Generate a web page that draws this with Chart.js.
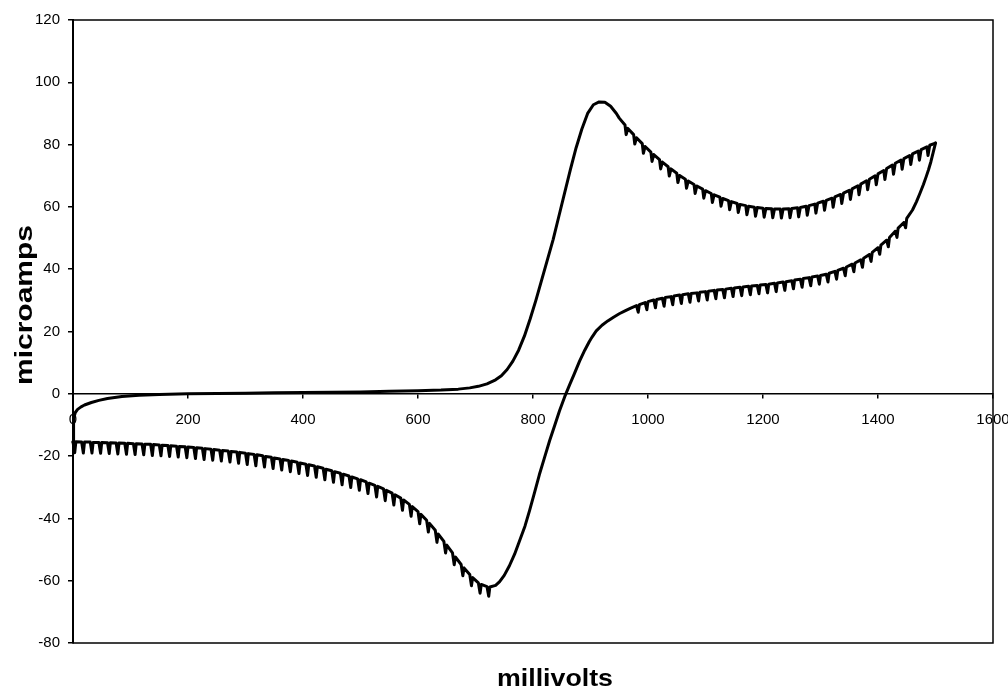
<!DOCTYPE html>
<html>
<head>
<meta charset="utf-8">
<script src="https://cdn.jsdelivr.net/npm/chart.js@4/dist/chart.umd.min.js"></script>
<style>
  html, body { margin: 0; padding: 0; background: #fff; }
  #wrap { width: 1008px; height: 688px; }
</style>
</head>
<body>
<div id="wrap"><canvas id="c" width="1008" height="688"></canvas></div>
<script>
// ---- Axis settings / labels ----
const xTitle = 'millivolts';
const yTitle = 'microamps';
const xMin = 0, xMax = 1600, xStep = 200;
const yMin = -80, yMax = 120, yStep = 20;

// ---- Forward scan (0 -> 1500 mV) ----
const forwardMv = [
  0, 1, 4, 8, 14, 20, 32, 45, 60, 85,
  115, 150, 200, 250, 300, 350, 400, 450, 500, 550,
  600, 640, 670, 690, 705, 720, 735, 745, 755, 765,
  775, 785, 795, 805, 815, 825, 835, 845, 855, 865,
  875, 885, 895, 905, 915, 925, 935, 945,
  950, 960, 962,   965, 975, 977,   980, 990, 992,   995, 1005, 1007,
  1010, 1020, 1022,   1025, 1035, 1037,   1040, 1050, 1052,   1055, 1065, 1067,
  1070, 1080, 1082,   1085, 1095, 1097,   1100, 1110, 1112,   1115, 1125, 1127,
  1130, 1140, 1142,   1145, 1155, 1157,   1160, 1170, 1172,   1175, 1185, 1187,
  1190, 1200, 1202,   1205, 1215, 1217,   1220, 1230, 1232,   1235, 1245, 1247,
  1250, 1260, 1262,   1265, 1275, 1277,   1280, 1290, 1292,   1295, 1305, 1307,
  1310, 1320, 1322,   1325, 1335, 1337,   1340, 1350, 1352,   1355, 1365, 1367,
  1370, 1380, 1382,   1385, 1395, 1397,   1400, 1410, 1412,   1415, 1425, 1427,
  1430, 1440, 1442,   1445, 1455, 1457,   1460, 1470, 1472,   1475, 1485, 1487,
  1490, 1500
];
const forwardUa = [
  -15.5, -8, -6, -5, -4.2, -3.6, -2.8, -2.1, -1.5, -0.9,
  -0.5, -0.2, 0, 0.1, 0.2, 0.3, 0.4, 0.5, 0.6, 0.8,
  1.0, 1.2, 1.5, 1.9, 2.4, 3.2, 4.5, 5.8, 7.8, 10.5,
  14, 18.5, 24, 30, 36.5, 43, 49.5, 57, 64.5, 72,
  79, 85, 90, 92.8, 93.7, 93.6, 92.3, 90,
  88.5, 86.3, 83.2,   85.2, 83.2, 80.2,   82.2, 80.3, 77.2,   79.4, 77.6, 74.6,
  76.8, 75.2, 72.2,   74.4, 72.9, 69.9,   72.2, 70.8, 67.8,   70.1, 68.9, 66,
  68.3, 67.2, 64.3,   66.7, 65.7, 62.8,   65.2, 64.3, 61.4,   63.9, 63.1, 60.2,
  62.7, 62, 59.1,   61.7, 61.1, 58.2,   60.8, 60.4, 57.5,   60.2, 59.9, 57,
  59.8, 59.6, 56.7,   59.5, 59.4, 56.5,   59.3, 59.3, 56.4,   59.3, 59.4, 56.5,
  59.5, 59.7, 56.8,   59.8, 60.2, 57.3,   60.4, 60.9, 58,   61.2, 61.8, 58.9,
  62.1, 62.8, 59.9,   63.2, 64, 61.1,   64.4, 65.3, 62.4,   65.8, 66.8, 63.9,
  67.3, 68.4, 65.5,   68.9, 70, 67.1,   70.6, 71.7, 68.8,   72.3, 73.4, 70.5,
  74, 75, 72.1,   75.5, 76.5, 73.6,   77, 77.9, 75,   78.4, 79.3, 76.5,
  79.8, 80.5
];

// ---- Reverse scan (1500 -> 0 mV) ----
const reverseMv = [
  1500, 1496, 1492, 1488, 1484, 1479, 1473, 1467,
  1460, 1450, 1448,   1445, 1435, 1433,   1430, 1420, 1418,   1415, 1405, 1403,
  1400, 1390, 1388,   1385, 1375, 1373,   1370, 1360, 1358,   1355, 1345, 1343,
  1340, 1330, 1328,   1325, 1315, 1313,   1310, 1300, 1298,   1295, 1285, 1283,
  1280, 1270, 1268,   1265, 1255, 1253,   1250, 1240, 1238,   1235, 1225, 1223,
  1220, 1210, 1208,   1205, 1195, 1193,   1190, 1180, 1178,   1175, 1165, 1163,
  1160, 1150, 1148,   1145, 1135, 1133,   1130, 1120, 1118,   1115, 1105, 1103,
  1100, 1090, 1088,   1085, 1075, 1073,   1070, 1060, 1058,   1055, 1045, 1043,
  1040, 1030, 1028,   1025, 1015, 1013,   1010, 1000, 998,   995, 985, 983,
  980, 970, 960, 950, 940, 930, 920, 910, 903, 898,
  890, 881, 872, 864, 855, 846, 838, 829, 820, 811,
  803, 794, 786, 777, 768, 759, 750, 742,
  735, 725, 723,   720, 710, 708,   705, 695, 693,   690, 680, 678,
  675, 665, 663,   660, 650, 648,   645, 635, 633,   630, 620, 618,
  615, 605, 603,   600, 590, 588,   585, 575, 573,   570, 560, 558,
  555, 545, 543,   540, 530, 528,   525, 515, 513,   510, 500, 498,
  495, 485, 483,   480, 470, 468,   465, 455, 453,   450, 440, 438,
  435, 425, 423,   420, 410, 408,   405, 395, 393,   390, 380, 378,
  375, 365, 363,   360, 350, 348,   345, 335, 333,   330, 320, 318,
  315, 305, 303,   300, 290, 288,   285, 275, 273,   270, 260, 258,
  255, 245, 243,   240, 230, 228,   225, 215, 213,   210, 200, 198,
  195, 185, 183,   180, 170, 168,   165, 155, 153,   150, 140, 138,
  135, 125, 123,   120, 110, 108,   105, 95, 93,   90, 80, 78,
  75, 65, 63,   60, 50, 48,   45, 35, 33,   30, 20, 18,
  15, 5, 3,
  0
];
const reverseUa = [
  80.5, 77.5, 74.5, 72, 69.8, 67.2, 64.4, 61.7,
  59, 56.3, 53.3,   55, 53.2, 50.2,   52.2, 50.2, 47.2,   49.3, 47.7, 44.8,
  46.9, 45.4, 42.5,   44.7, 43.5, 40.6,   43, 42, 39.2,   41.6, 40.7, 37.9,
  40.3, 39.6, 36.8,   39.3, 38.7, 35.9,   38.4, 38, 35.2,   37.8, 37.5, 34.7,
  37.3, 37, 34.2,   36.8, 36.5, 33.7,   36.3, 36, 33.2,   35.9, 35.6, 32.8,
  35.5, 35.2, 32.4,   35.1, 34.9, 32.1,   34.8, 34.6, 31.8,   34.5, 34.3, 31.5,
  34.2, 34, 31.2,   33.9, 33.6, 30.8,   33.5, 33.3, 30.5,   33.2, 32.9, 30.1,
  32.8, 32.6, 29.8,   32.4, 32.2, 29.4,   32.1, 31.8, 29,   31.7, 31.4, 28.6,
  31.2, 30.9, 28.1,   30.7, 30.3, 27.6,   30.1, 29.6, 27,   29.3, 28.6, 26.2,
  28.3, 27.5, 26.6, 25.7, 24.6, 23.4, 22, 20.2, 18.3, 16.8,
  14, 10.5, 6.5, 3, -1, -5.5, -10, -15, -20.5, -26,
  -31.5, -37.5, -42.5, -47, -51.5, -55.2, -58.3, -60.3,
  -61.5, -62.0, -65.0,   -61.9, -61.2, -64.0,   -60.7, -59.0, -61.6,   -58.0, -55.9, -58.4,
  -54.8, -52.4, -54.9,   -51.1, -48.6, -51.1,   -47.4, -45.0, -47.7,   -43.8, -41.6, -44.4,
  -40.6, -38.7, -41.7,   -37.8, -36.2, -39.3,   -35.5, -34.1, -37.4,   -33.5, -32.4, -35.7,
  -31.9, -31.0, -34.3,   -30.5, -29.7, -33.1,   -29.4, -28.7, -32.0,   -28.3, -27.6, -31.0,
  -27.3, -26.7, -30.1,   -26.4, -25.8, -29.2,   -25.5, -25.0, -28.4,   -24.7, -24.2, -27.6,
  -23.9, -23.4, -26.8,   -23.2, -22.8, -26.2,   -22.6, -22.2, -25.6,   -22.0, -21.6, -25.0,
  -21.4, -21.1, -24.5,   -20.9, -20.6, -24.0,   -20.4, -20.1, -23.5,   -19.9, -19.6, -23.1,
  -19.5, -19.2, -22.7,   -19.1, -18.8, -22.3,   -18.7, -18.5, -21.9,   -18.4, -18.2, -21.6,
  -18.1, -17.9, -21.3,   -17.8, -17.6, -21.1,   -17.5, -17.3, -20.8,   -17.2, -17.1, -20.5,
  -17.0, -16.9, -20.3,   -16.8, -16.7, -20.1,   -16.6, -16.5, -19.9,   -16.4, -16.3, -19.8,
  -16.2, -16.2, -19.6,   -16.1, -16.0, -19.5,   -16.0, -15.9, -19.4,   -15.9, -15.8, -19.3,
  -15.8, -15.7, -19.2,   -15.7, -15.6, -19.1,   -15.6, -15.6, -19.0,   -15.5, -15.5, -19.0,
  -15.5, -15.4, -18.9,
  -15.4
];

function toPoints(xs, ys) {
  const n = Math.min(xs.length, ys.length);
  const out = [];
  for (let i = 0; i < n; i++) out.push({ x: xs[i], y: ys[i] });
  return out;
}

const tickFont = { family: '"Liberation Sans", Arial, sans-serif', size: 15 };
const plainNumber = (v) => String(v);

const framePlugin = {
  id: 'frame',
  afterDatasetsDraw(chart) {
    const { ctx, chartArea: a } = chart;
    ctx.save();
    ctx.strokeStyle = '#000';
    ctx.lineWidth = 1.5;
    ctx.strokeRect(a.left, a.top, a.right - a.left, a.bottom - a.top);
    ctx.restore();
  }
};

const titlesPlugin = {
  id: 'axisTitles',
  afterDraw(chart) {
    const { ctx } = chart;
    ctx.save();
    ctx.fillStyle = '#000';
    ctx.font = 'bold 24px "Liberation Sans", Arial, sans-serif';
    ctx.textAlign = 'center';
    ctx.textBaseline = 'alphabetic';
    ctx.save();
    ctx.translate(555, 686);
    ctx.scale(1.115, 1);
    ctx.fillText(xTitle, 0, 0);
    ctx.restore();
    ctx.save();
    ctx.translate(32, 305);
    ctx.rotate(-Math.PI / 2);
    ctx.scale(1.25, 1);
    ctx.fillText(yTitle, 0, 0);
    ctx.restore();
    ctx.restore();
  }
};

const lineStyle = {
  showLine: true,
  borderColor: '#000',
  backgroundColor: '#000',
  borderWidth: 3,
  borderJoinStyle: 'round',
  borderCapStyle: 'round',
  pointRadius: 0,
  pointHoverRadius: 0,
  tension: 0,
  clip: 6,
  xAxisID: 'x',
  yAxisID: 'y'
};

new Chart(document.getElementById('c'), {
  type: 'scatter',
  data: {
    datasets: [
      Object.assign({ label: 'Forward scan', data: toPoints(forwardMv, forwardUa) }, lineStyle),
      Object.assign({ label: 'Reverse scan', data: toPoints(reverseMv, reverseUa) }, lineStyle)
    ]
  },
  options: {
    responsive: false,
    animation: false,
    events: [],
    layout: { padding: { top: 20, right: 15, left: 0, bottom: 0 } },
    plugins: { legend: { display: false }, tooltip: { enabled: false } },
    scales: {
      x: {
        type: 'linear',
        position: { y: 0 },
        min: xMin, max: xMax,
        ticks: { stepSize: xStep, color: '#000', font: tickFont, padding: 13, maxRotation: 0, autoSkip: false, callback: plainNumber },
        grid: { drawOnChartArea: false, drawTicks: true, tickLength: 4, color: '#000', lineWidth: 1.5 },
        border: { color: '#000', width: 1.5 },
        afterFit(s) { s.paddingLeft = 0; s.paddingRight = 0; }
      },
      xb: {
        type: 'linear',
        axis: 'x',
        position: 'bottom',
        min: xMin, max: xMax,
        ticks: { display: false },
        grid: { display: false },
        border: { display: false },
        afterFit(s) { s.height = 45; s.paddingLeft = 0; s.paddingRight = 0; }
      },
      y: {
        type: 'linear',
        position: 'left',
        min: yMin, max: yMax,
        ticks: { stepSize: yStep, color: '#000', font: tickFont, padding: 8, callback: plainNumber },
        grid: { drawOnChartArea: false, drawTicks: true, tickLength: 5, color: '#000', lineWidth: 1.5 },
        border: { color: '#000', width: 2 },
        afterFit(s) { s.width = 73; s.paddingTop = 0; s.paddingBottom = 0; }
      }
    }
  },
  plugins: [framePlugin, titlesPlugin]
});
</script>
</body>
</html>
